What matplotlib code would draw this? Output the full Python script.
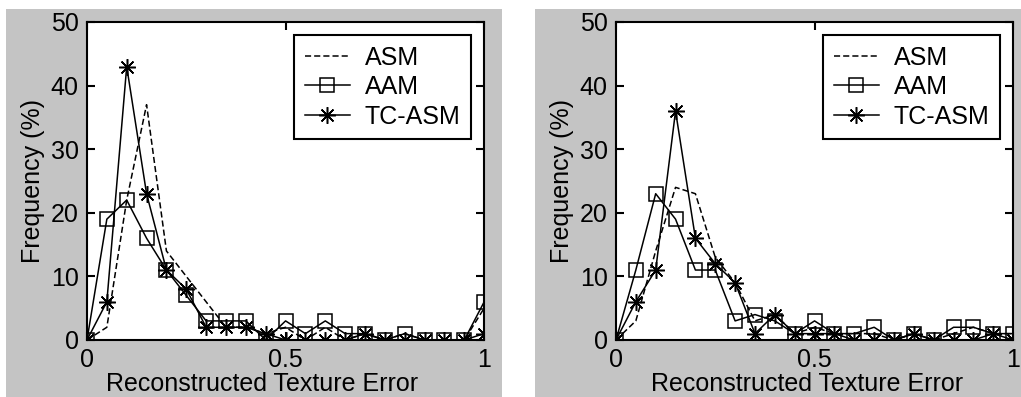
import matplotlib.pyplot as plt
from matplotlib.patches import Rectangle

plt.rcParams['font.family'] = ['Liberation Sans', 'DejaVu Sans']

# bin centres of the texture error histogram
error_bins = [0.0, 0.05, 0.1, 0.15, 0.2, 0.25, 0.3, 0.35, 0.4, 0.45, 0.5,
              0.55, 0.6, 0.65, 0.7, 0.75, 0.8, 0.85, 0.9, 0.95, 1.0]

# left panel
asm_left = [0, 2, 22, 37, 14, 10, 6, 2, 2, 1, 2, 0, 2, 0, 1, 0, 1, 0, 0, 0, 5]
aam_left = [0, 19, 22, 16, 11, 7, 3, 3, 3, 0, 3, 1, 3, 1, 1, 0, 1, 0, 0, 0, 6]
tcasm_left = [0, 6, 43, 23, 11, 8, 2, 2, 2, 1, 0, 0, 0, 0, 1, 0, 0, 0, 0, 0, 1]

# right panel
asm_right = [0, 3, 14, 24, 23, 13, 9, 3, 4, 1, 2, 1, 1, 1, 0, 1, 0, 1, 2, 1, 1]
aam_right = [0, 11, 23, 19, 11, 11, 3, 4, 3, 1, 3, 1, 1, 2, 0, 1, 0, 2, 2, 1, 1]
tcasm_right = [0, 6, 11, 36, 16, 12, 9, 1, 4, 1, 1, 1, 0, 0, 0, 1, 0, 0, 0, 1, 0]

series_names = ['ASM', 'AAM', 'TC-ASM']
x_ticks = [0, 0.5, 1]
y_ticks = [0, 10, 20, 30, 40, 50]

FS = 18
GRAY = '#c4c4c4'

fig = plt.figure(figsize=(10.21, 3.97), dpi=100, facecolor='white')

# gray MATLAB-style figure backgrounds behind each panel
for x0, w in [(6, 496), (535, 486)]:
    fig.patches.append(Rectangle((x0 / 1021, 0), w / 1021, 388 / 397,
                                 transform=fig.transFigure, facecolor=GRAY,
                                 edgecolor='none', zorder=-10))

panels = [
    ([0.0852, 0.1436, 0.389, 0.801], asm_left, aam_left, tcasm_left, 0.44),
    ([0.6033, 0.1436, 0.389, 0.801], asm_right, aam_right, tcasm_right, 0.48),
]

for rect, asm, aam, tcasm, xlab_x in panels:
    ax = fig.add_axes(rect)
    ax.set_facecolor('white')
    ax.plot(error_bins, asm, color='black', lw=1.1, ls=(0, (4, 2)),
            label=series_names[0])
    ax.plot(error_bins, aam, color='black', lw=1.1, marker='s', ms=10.5,
            mfc='none', mec='black', mew=1.1, label=series_names[1])
    ax.plot(error_bins, tcasm, color='black', lw=1.1, marker=(8, 2, 0),
            ms=12, mec='black', mew=1.1, label=series_names[2])

    ax.set_xlim(0, 1)
    ax.set_ylim(0, 50)
    ax.set_xticks(x_ticks)
    ax.set_xticklabels(['0', '0.5', '1'])
    ax.set_yticks(y_ticks)
    ax.tick_params(direction='in', length=6, width=1.5, top=True, right=True,
                   labelsize=FS, pad=6)
    for sp in ax.spines.values():
        sp.set_linewidth(1.5)
    ax.set_xlabel('Reconstructed Texture Error', fontsize=FS)
    ax.xaxis.set_label_coords(xlab_x, -0.102, transform=ax.transAxes)
    ax.xaxis.label.set_va('top')
    ax.set_ylabel('Frequency (%)', fontsize=FS, labelpad=4)

    leg = ax.legend(loc='upper right', bbox_to_anchor=(0.967, 0.959),
                    fontsize=FS, frameon=True, fancybox=False,
                    edgecolor='black', framealpha=1, handlelength=1.8,
                    handletextpad=0.6, labelspacing=0.22, borderpad=0.42,
                    borderaxespad=0)
    leg.get_frame().set_linewidth(1.5)

fig.savefig('out.png', dpi=100, facecolor='white')
